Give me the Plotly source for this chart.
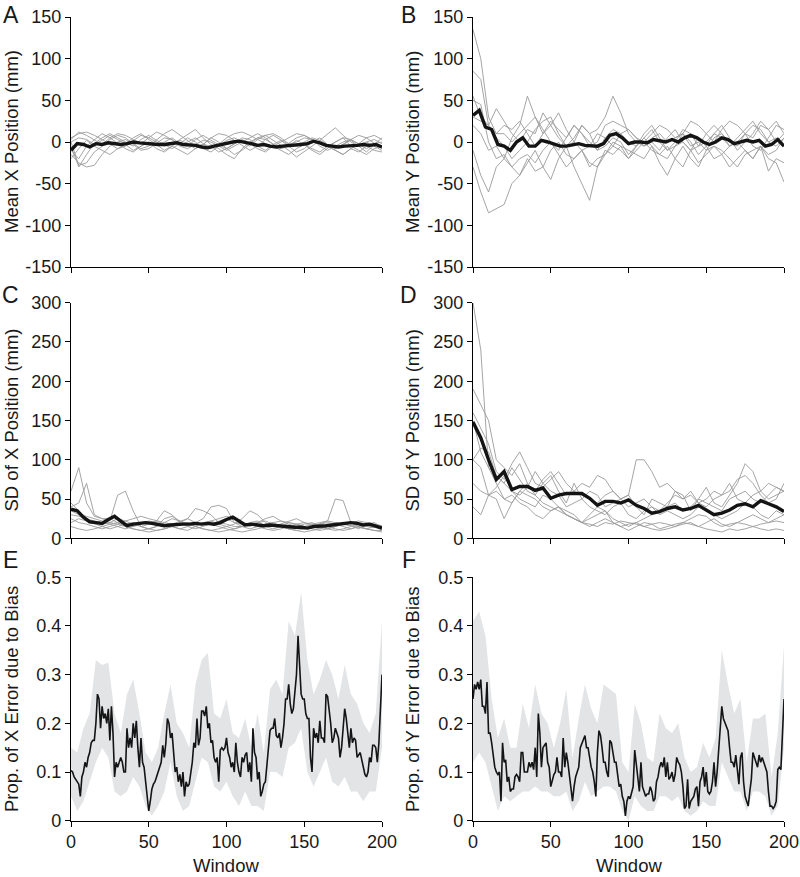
import plotly.graph_objects as go

# ---------------- data ----------------
windows = list(range(0, 201))          # E, F
win4 = list(range(0, 201, 4))          # A, B, C means and E/F bands
win5 = list(range(0, 201, 5))          # subject lines, D mean

# tick labels (hyphen minus as in the reference)
pos_ticks = [-150, -100, -50, 0, 50, 100, 150]
pos_labels = ["-150", "-100", "-50", "0", "50", "100", "150"]
sd_ticks = [0, 50, 100, 150, 200, 250, 300]
sd_labels = ["0", "50", "100", "150", "200", "250", "300"]
prop_ticks = [0, 0.1, 0.2, 0.3, 0.4, 0.5]
prop_labels = ["0", "0.1", "0.2", "0.3", "0.4", "0.5"]
win_ticks = [0, 50, 100, 150, 200]
win_labels = ["0", "50", "100", "150", "200"]

# Panel A: Mean X position, individual subjects
A_subj = [
    [0,-28,-25,-12,-5,3,8,5,-2,-8,-5,3,10,15,8,2,-5,-3,5,0,-8,-15,-10,-3,5,8,2,-5,-10,-18,-12,-5,2,10,17,8,0,-5,-12,-3,5],
    [-5,-30,-15,-2,5,10,5,0,-5,3,8,2,-3,-8,-2,5,0,-8,-12,-5,2,5,0,-5,3,8,10,5,-2,-5,0,5,2,-3,-8,-3,2,-5,0,3,-2],
    [5,10,12,8,3,-3,-8,-5,2,8,5,0,-5,-3,3,10,15,5,-3,-8,-15,-20,-8,0,5,3,-3,-8,-5,2,-3,-10,-15,-8,0,5,-5,-10,-15,-8,-5],
    [-10,-20,-5,3,10,5,-2,-8,-12,-5,0,-3,-10,-5,2,-2,-8,-3,5,10,8,2,-5,-10,-5,3,8,2,-3,0,5,3,-5,-10,-5,0,3,8,5,-2,-8],
    [-15,-25,-30,-28,-15,-5,0,3,-3,-10,-8,-2,5,3,-5,-8,-3,2,0,-5,-10,-5,0,5,10,5,-3,-8,-2,5,8,3,-2,-5,-10,-15,-8,-3,0,-5,-10],
    [3,12,8,2,-3,5,10,8,3,-2,5,12,8,2,-3,0,5,-2,-8,-3,5,10,12,8,3,-2,-5,0,5,10,8,3,-2,-5,0,5,3,-2,5,8,3],
    [-20,-8,2,-5,-10,-15,-8,-3,-10,-5,0,-8,-12,-5,-10,-15,-8,-3,-5,-12,-8,-3,3,-2,-8,-12,-5,-10,-15,-8,-3,-8,-12,-5,-10,-15,-8,-12,-5,-10,-12],
    [0,5,3,-3,2,8,3,-2,5,10,3,-3,0,5,-2,-5,3,8,2,-3,-8,-2,5,3,-5,-10,-3,2,-5,-12,-8,0,5,-3,-8,-2,3,-3,-8,-2,0],
]
A_mean = [-10,-2,-3,-6,-2,-3,-1,-2,-3,-2,0,-1,-2,-3,-3,-3,-2,-1,-3,-3,-4,-6,-7,-5,-3,-1,
          0,1,0,-2,-4,-3,-5,-6,-5,-4,-4,-3,-2,1,-1,-4,-5,-6,-5,-5,-4,-3,-4,-3,-6]

# Panel B: Mean Y position
B_subj = [
    [135,100,30,10,10,0,10,20,30,15,0,-10,5,20,10,0,-10,5,15,10,0,-5,10,20,5,-10,0,15,10,-5,0,10,20,5,-10,0,10,25,15,0,10],
    [85,75,20,5,-5,-20,-10,0,15,25,30,10,-5,5,20,10,-10,-5,5,0,-15,-5,5,15,0,-10,-5,10,0,-15,-5,10,5,-5,0,10,-5,-10,5,20,15],
    [-30,-60,-85,-80,-75,-50,-40,-20,-35,-30,-10,0,-15,-20,-10,-25,-30,-15,-5,-10,-20,-5,5,-5,-15,-20,-5,0,-10,-25,-15,-5,-10,-20,-30,-15,-10,-5,-20,-25,-48],
    [50,45,0,-20,-15,-30,-40,-25,-10,-30,-45,-20,-5,-30,-50,-70,-30,-10,-15,-5,-20,-10,0,-10,-15,-5,-20,-30,-10,5,-5,-20,-15,-5,0,-10,-20,-5,-35,-20,-25],
    [-10,-40,-60,-30,-20,5,20,55,30,10,20,35,15,0,-10,-5,10,5,-5,10,15,5,-5,0,-10,5,15,0,-10,-5,10,20,10,-5,5,15,25,10,0,5,-5],
    [55,30,20,40,25,10,0,15,10,35,20,5,-5,0,20,10,15,30,55,35,10,0,-5,5,10,0,5,10,-5,0,-10,5,10,0,-5,10,20,15,0,-5,5],
    [20,10,-10,-5,-20,-30,-20,-15,-25,-10,0,-15,-30,-20,-10,-30,-20,-15,0,-5,-10,-15,-20,-5,-25,-40,-20,-5,-20,-30,-10,-5,-15,-30,-20,-10,-20,-5,-15,-10,5],
    [30,25,20,10,20,15,25,10,-5,10,25,15,5,20,10,-5,0,20,25,20,15,5,0,10,20,15,5,10,25,20,10,0,15,25,20,10,5,20,15,25,10],
]
B_mean = [32,38,18,15,-3,-5,-10,0,5,-5,-5,2,0,-2,-5,-5,-3,-2,-4,-5,-5,-2,8,10,5,-2,
          0,0,-1,3,2,0,3,0,5,8,5,0,-3,0,5,3,-2,0,2,0,2,-5,-3,3,-5]

# Panel C: SD of X position
C_subj = [
    [60,90,45,28,25,25,20,18,15,20,22,20,18,15,20,25,38,35,30,20,18,15,15,20,22,15,12,15,20,18,15,12,10,12,15,18,16,14,12,15,12],
    [40,45,70,30,25,22,55,60,35,15,12,15,20,25,22,18,20,25,40,42,38,20,15,12,15,18,20,15,12,15,18,20,15,12,10,12,15,18,16,14,15],
    [20,25,22,18,15,12,15,18,20,15,18,22,35,30,20,15,12,15,18,22,25,20,18,15,20,25,28,22,18,15,12,15,18,22,50,48,20,18,15,14,12],
    [30,28,25,20,18,20,25,22,18,15,12,10,12,15,18,20,15,12,10,12,15,18,25,35,30,20,15,18,22,25,20,15,12,15,20,18,16,12,18,16,10],
    [15,12,10,12,15,18,20,15,12,10,8,10,12,15,12,10,15,20,18,15,12,10,8,10,12,15,18,15,12,10,8,10,12,15,12,10,12,15,12,10,8],
    [35,30,28,25,22,20,18,22,25,28,25,22,20,18,22,25,20,18,22,25,28,25,20,18,15,18,20,22,20,18,15,18,20,22,20,18,20,22,20,18,16],
    [45,35,25,22,20,18,15,12,15,18,20,22,18,15,12,15,18,20,22,18,15,12,15,18,20,22,18,15,12,10,12,15,18,20,18,15,12,15,18,20,14],
    [25,20,18,15,12,15,18,15,12,10,12,15,25,28,22,18,15,12,10,8,10,12,15,18,15,12,10,12,15,18,20,18,15,12,15,18,20,15,12,10,10],
]
C_mean = [37,35,27,21,20,19,24,28,22,16,18,19,20,19,17,16,17,18,18,18,19,18,19,18,20,24,
          27,22,17,18,17,16,17,16,15,15,14,14,13,15,15,16,17,18,20,20,19,17,18,16,13]

# Panel D: SD of Y position
D_subj = [
    [300,240,90,80,70,90,75,60,55,70,80,60,45,70,50,60,55,40,45,50,55,40,30,50,45,40,60,55,35,50,65,45,40,55,70,95,85,60,70,65,60],
    [190,170,150,100,90,80,95,70,60,75,85,70,55,60,70,65,80,75,60,50,55,100,100,85,65,70,60,50,55,45,50,60,55,70,50,45,55,60,50,55,60],
    [160,140,120,85,75,95,110,90,70,65,75,85,70,60,55,50,45,55,60,50,40,45,50,40,35,45,55,50,60,45,40,50,55,60,75,80,70,55,45,50,70],
    [100,115,110,80,70,60,55,65,85,70,60,55,40,45,50,40,35,30,40,45,30,25,35,40,30,35,30,25,30,40,35,30,25,30,35,45,40,30,25,35,30],
    [70,60,55,65,80,60,50,45,40,55,50,40,35,30,20,15,20,25,20,15,18,20,15,18,20,18,15,20,18,15,20,25,18,15,20,18,15,18,20,22,20],
    [40,30,55,60,50,55,45,40,30,25,35,40,30,25,20,18,15,20,18,22,20,18,15,12,10,12,15,18,20,15,12,10,8,12,10,12,15,12,10,12,10],
    [150,110,90,70,50,45,60,55,50,40,35,40,30,25,20,25,30,35,20,15,10,15,20,18,12,15,18,20,25,30,28,20,15,18,20,25,30,25,20,25,30],
    [100,90,55,50,25,45,60,70,55,45,40,35,30,25,20,30,40,35,25,20,15,20,25,30,35,40,45,35,40,50,45,40,35,50,55,60,50,45,55,65,60],
]
D_mean = [148,128,100,75,85,62,66,66,61,64,51,55,57,57,57,51,42,47,47,45,49,
          42,38,32,34,38,40,36,38,42,36,30,32,36,42,44,40,48,44,40,34]

# Panel E: proportion of X error due to bias
E_mean = [0.103,0.10,0.09,0.085,0.08,0.075,0.05,0.09,0.10,0.12,
          0.11,0.13,0.14,0.16,0.165,0.165,0.20,0.26,0.25,0.19,
          0.235,0.21,0.22,0.20,0.23,0.165,0.235,0.18,0.09,0.12,
          0.11,0.12,0.13,0.12,0.10,0.10,0.19,0.15,0.17,0.15,
          0.20,0.17,0.205,0.15,0.11,0.17,0.12,0.11,0.08,0.05,
          0.02,0.04,0.065,0.075,0.08,0.09,0.10,0.11,0.12,0.155,
          0.13,0.16,0.21,0.20,0.17,0.18,0.14,0.10,0.11,0.08,
          0.095,0.07,0.10,0.05,0.08,0.07,0.075,0.10,0.12,0.16,
          0.15,0.21,0.155,0.17,0.225,0.225,0.215,0.235,0.19,0.20,
          0.16,0.165,0.13,0.12,0.13,0.08,0.145,0.15,0.145,0.15,
          0.17,0.14,0.13,0.11,0.12,0.10,0.16,0.12,0.10,0.09,
          0.13,0.12,0.135,0.14,0.10,0.12,0.08,0.19,0.14,0.13,
          0.085,0.10,0.05,0.06,0.075,0.08,0.12,0.15,0.185,0.19,
          0.19,0.21,0.175,0.17,0.18,0.15,0.17,0.20,0.25,0.25,
          0.28,0.24,0.22,0.23,0.27,0.30,0.38,0.33,0.26,0.25,
          0.25,0.22,0.21,0.21,0.13,0.10,0.19,0.17,0.18,0.16,
          0.205,0.17,0.17,0.16,0.26,0.255,0.23,0.20,0.16,0.17,
          0.19,0.18,0.17,0.13,0.15,0.19,0.23,0.21,0.18,0.15,
          0.19,0.16,0.17,0.165,0.13,0.135,0.14,0.125,0.11,0.095,
          0.09,0.10,0.13,0.12,0.155,0.155,0.15,0.12,0.16,0.25,
          0.30]
E_upper = [0.15,0.14,0.19,0.22,0.33,0.32,0.325,0.22,0.18,0.26,0.29,0.22,0.14,0.12,0.15,0.22,
           0.28,0.20,0.18,0.15,0.28,0.33,0.345,0.22,0.21,0.25,0.18,0.17,0.21,0.15,0.22,0.14,
           0.27,0.29,0.26,0.41,0.38,0.47,0.33,0.26,0.29,0.33,0.30,0.25,0.32,0.26,0.24,0.20,
           0.18,0.22,0.41]
E_lower = [0.05,0.02,0.04,0.08,0.12,0.15,0.13,0.06,0.05,0.06,0.09,0.07,0.03,0.01,0.03,0.06,
           0.12,0.05,0.02,0.03,0.08,0.13,0.12,0.07,0.06,0.08,0.05,0.03,0.06,0.03,0.03,0.02,
           0.10,0.10,0.09,0.15,0.16,0.19,0.10,0.07,0.10,0.13,0.08,0.07,0.09,0.06,0.06,0.04,
           0.06,0.06,0.15]

# Panel F: proportion of Y error due to bias
F_mean = [0.25,0.28,0.27,0.285,0.27,0.29,0.235,0.235,0.22,0.285,
          0.18,0.18,0.16,0.13,0.11,0.10,0.095,0.10,0.04,0.16,
          0.12,0.125,0.08,0.09,0.06,0.065,0.065,0.09,0.095,0.09,
          0.08,0.14,0.14,0.10,0.10,0.10,0.12,0.11,0.12,0.105,
          0.15,0.09,0.22,0.18,0.11,0.15,0.155,0.16,0.12,0.11,
          0.07,0.085,0.095,0.10,0.13,0.10,0.10,0.09,0.17,0.11,
          0.14,0.12,0.09,0.06,0.04,0.07,0.09,0.10,0.11,0.15,
          0.16,0.165,0.175,0.15,0.15,0.13,0.11,0.10,0.08,0.05,
          0.14,0.185,0.175,0.15,0.12,0.12,0.10,0.09,0.165,0.16,
          0.14,0.12,0.12,0.09,0.07,0.075,0.05,0.04,0.01,0.04,
          0.05,0.045,0.06,0.07,0.145,0.12,0.085,0.06,0.12,0.07,
          0.06,0.05,0.055,0.055,0.07,0.06,0.04,0.045,0.08,0.09,
          0.11,0.12,0.11,0.13,0.09,0.12,0.085,0.09,0.10,0.08,
          0.095,0.13,0.12,0.115,0.10,0.07,0.025,0.03,0.085,0.025,
          0.04,0.045,0.05,0.065,0.07,0.03,0.08,0.09,0.11,0.07,
          0.10,0.06,0.055,0.06,0.08,0.12,0.07,0.10,0.15,0.20,
          0.235,0.21,0.20,0.19,0.185,0.15,0.12,0.12,0.11,0.135,
          0.11,0.075,0.13,0.14,0.08,0.05,0.04,0.03,0.06,0.085,
          0.14,0.13,0.125,0.11,0.135,0.12,0.13,0.12,0.11,0.10,
          0.06,0.03,0.03,0.025,0.03,0.04,0.105,0.11,0.105,0.19,
          0.25]
F_upper = [0.41,0.43,0.38,0.25,0.17,0.21,0.15,0.15,0.24,0.19,0.28,0.22,0.20,0.15,0.20,0.27,
           0.13,0.21,0.28,0.23,0.20,0.28,0.27,0.26,0.12,0.10,0.24,0.20,0.13,0.12,0.22,0.19,
           0.18,0.20,0.13,0.10,0.11,0.16,0.13,0.17,0.35,0.28,0.22,0.25,0.12,0.21,0.21,0.22,
           0.09,0.18,0.36]
F_lower = [0.12,0.14,0.12,0.07,0.02,0.05,0.04,0.05,0.06,0.06,0.07,0.06,0.06,0.05,0.05,0.06,
           0.02,0.04,0.08,0.05,0.06,0.07,0.07,0.06,0.02,0.00,0.05,0.03,0.02,0.02,0.05,0.05,
           0.04,0.05,0.02,0.01,0.02,0.04,0.03,0.03,0.12,0.09,0.06,0.06,0.02,0.06,0.06,0.05,
           0.01,0.03,0.15]

y_titles = ["Mean X Position (mm)", "Mean Y Position (mm)",
            "SD of X Position (mm)", "SD of Y Position (mm)",
            "Prop. of X Error due to Bias", "Prop. of Y Error due to Bias"]
letters = ["A", "B", "C", "D", "E", "F"]

# ---------------- styling ----------------
W, H = 800, 877
FONT = "Liberation Sans, Arial, Helvetica, sans-serif"
GRAY = "rgb(155,155,155)"
BLACK = "rgb(20,20,20)"
BAND = "rgb(226,228,230)"
TXT = "rgb(25,25,25)"

xdom = [[71 / W, 382 / W], [473 / W, 784 / W]]
ydom = [[1 - 267 / H, 1 - 17 / H], [1 - 538.3 / H, 1 - 302.7 / H], [1 - 820.7 / H, 1 - 577.3 / H]]

fig = go.Figure()

def ax(i):
    return ("x" if i == 1 else f"x{i}"), ("y" if i == 1 else f"y{i}")

panels = [(A_subj, A_mean, win4), (B_subj, B_mean, win4),
          (C_subj, C_mean, win4), (D_subj, D_mean, win5)]
for k, (subj, mean, wm) in enumerate(panels):
    xa, ya = ax(k + 1)
    for s in subj:
        fig.add_trace(go.Scatter(x=win5, y=s, mode="lines", xaxis=xa, yaxis=ya,
                                 line=dict(color=GRAY, width=0.9), showlegend=False,
                                 hoverinfo="skip"))
    fig.add_trace(go.Scatter(x=wm, y=mean, mode="lines", xaxis=xa, yaxis=ya,
                             line=dict(color=BLACK, width=3.4), showlegend=False))

for k, (mean, up, lo) in enumerate([(E_mean, E_upper, E_lower), (F_mean, F_upper, F_lower)]):
    xa, ya = ax(k + 5)
    fig.add_trace(go.Scatter(x=win4, y=lo, mode="lines", xaxis=xa, yaxis=ya,
                             line=dict(width=0, color=BAND), showlegend=False, hoverinfo="skip"))
    fig.add_trace(go.Scatter(x=win4, y=up, mode="lines", xaxis=xa, yaxis=ya, fill="tonexty",
                             fillcolor=BAND, line=dict(width=0, color=BAND),
                             showlegend=False, hoverinfo="skip"))
    fig.add_trace(go.Scatter(x=windows, y=mean, mode="lines", xaxis=xa, yaxis=ya,
                             line=dict(color=BLACK, width=1.6), showlegend=False))

layout = dict(template="none", width=W, height=H, margin=dict(l=0, r=0, t=0, b=0, pad=0),
              paper_bgcolor="white", plot_bgcolor="white",
              font=dict(family=FONT, size=18, color=TXT),
              showlegend=False)

yranges = [[-150, 150], [-150, 150], [0, 300], [0, 300], [0, 0.5], [0, 0.5]]
ytickv = [pos_ticks, pos_ticks, sd_ticks, sd_ticks, prop_ticks, prop_ticks]
ytickt = [pos_labels, pos_labels, sd_labels, sd_labels, prop_labels, prop_labels]
annotations = []
for i in range(1, 7):
    row = (i - 1) // 2
    col = (i - 1) % 2
    xk = "xaxis" if i == 1 else f"xaxis{i}"
    yk = "yaxis" if i == 1 else f"yaxis{i}"
    bottom = row == 2
    layout[xk] = dict(domain=xdom[col], anchor=ax(i)[1], range=[0, 200], automargin=False,
                      tickmode="array", tickvals=win_ticks, ticktext=win_labels,
                      ticks="outside", ticklen=5,
                      tickwidth=1.2, tickcolor="black", showline=True, linecolor="black",
                      linewidth=1.3, showgrid=False, zeroline=False,
                      showticklabels=bottom, tickfont=dict(size=18, color=TXT))
    layout[yk] = dict(domain=ydom[row], anchor=ax(i)[0], range=yranges[i - 1], automargin=False,
                      tickmode="array", tickvals=ytickv[i - 1], ticktext=ytickt[i - 1],
                      ticks="outside", ticklen=5, tickwidth=1.2, tickcolor="black",
                      showline=True, linecolor="black", linewidth=1.3, showgrid=False,
                      zeroline=False, tickfont=dict(size=18, color=TXT))
    ymid = (ydom[row][0] + ydom[row][1]) / 2
    tx = 11 / W if col == 0 else 412 / W
    annotations.append(dict(text=y_titles[i - 1], x=tx, y=ymid, xref="paper", yref="paper",
                            textangle=-90, showarrow=False, xanchor="center", yanchor="middle",
                            font=dict(size=18.5, color=TXT)))
    lx = 10.5 / W if col == 0 else 408.5 / W
    ly_px = [14.5, 295, 560][row]
    annotations.append(dict(text=letters[i - 1], x=lx, y=1 - ly_px / H, xref="paper", yref="paper",
                            showarrow=False, xanchor="center", yanchor="middle",
                            font=dict(size=23, color=TXT)))
    if bottom:
        annotations.append(dict(text="Window", x=(xdom[col][0] + xdom[col][1]) / 2,
                                y=0, xref="paper", yref="paper", showarrow=False,
                                xanchor="center", yanchor="bottom", borderpad=0,
                                font=dict(size=18.5, color=TXT)))

layout["annotations"] = annotations
fig.update_layout(**layout)
fig.write_html("out.html", config={"displayModeBar": False},
               post_script="document.body.style.margin='0px';document.body.style.overflow='hidden';")
